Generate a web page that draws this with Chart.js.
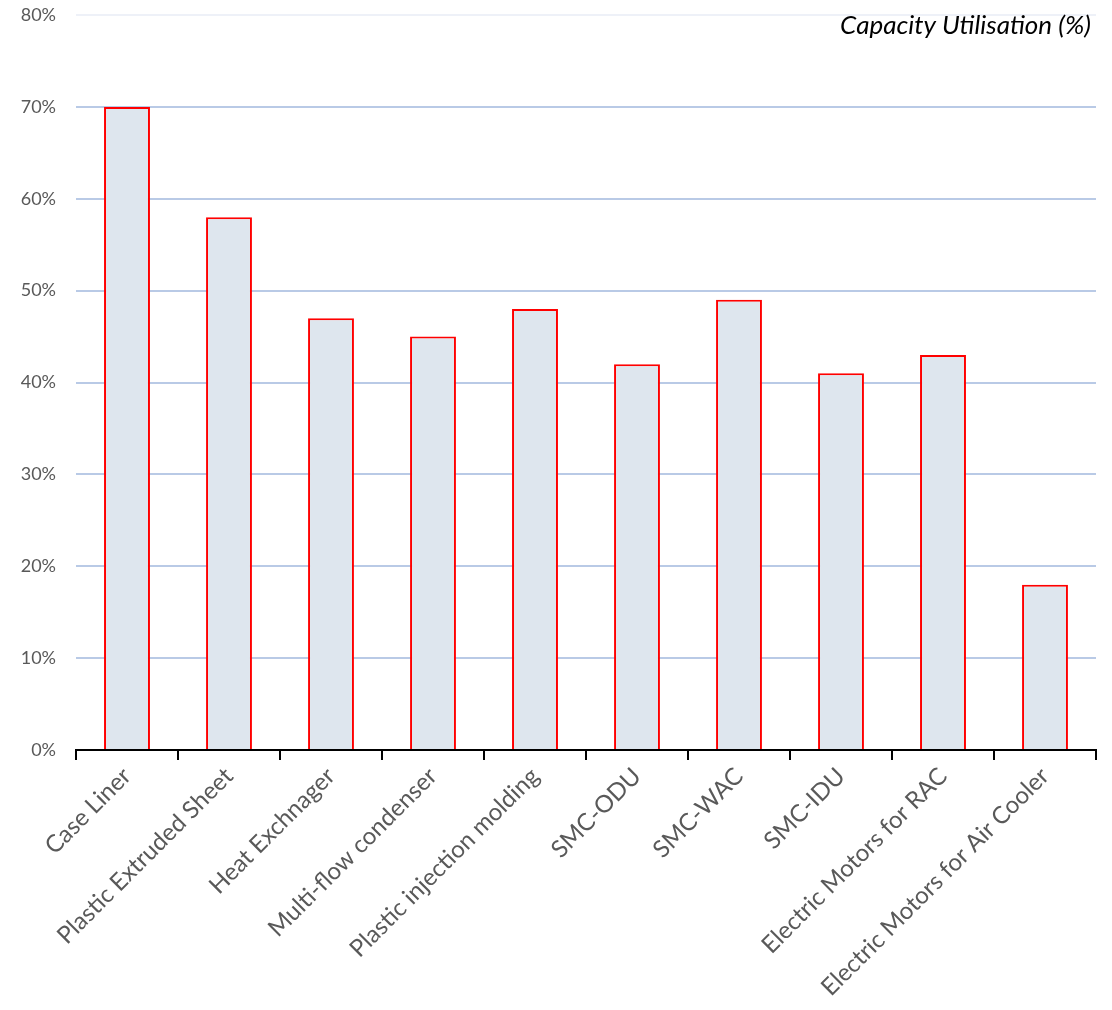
<!DOCTYPE html>
<html>
<head>
<meta charset="utf-8">
<script src="https://cdn.jsdelivr.net/npm/chart.js@4"></script>
<style>
    html, body { margin: 0; padding: 0; background: #fff; }
    #wrap { width: 1112px; height: 1010px; }
</style>
</head>
<body>
<div id="wrap"><canvas id="capChart" width="1112" height="1010"></canvas></div>
<script>
const categories = ["Case Liner", "Plastic Extruded Sheet", "Heat Exchnager", "Multi-flow condenser", "Plastic injection molding", "SMC-ODU", "SMC-WAC", "SMC-IDU", "Electric Motors for RAC", "Electric Motors for Air Cooler"]
const utilisation = [70, 58, 47, 45, 48, 42, 49, 41, 43, 18]
const yTicks = [0, 10, 20, 30, 40, 50, 60, 70, 80]
const chartTitle = "Capacity Utilisation (%)"

const titlePlugin = {
    id: "cornerTitle",
    afterDraw: (chart) => {
        const ctx = chart.ctx
        ctx.save()
        ctx.font = "italic 26px Lato"
        ctx.fillStyle = "#000"
        ctx.textAlign = "right"
        ctx.textBaseline = "middle"
        ctx.fillText(chartTitle, chart.chartArea.right - 5, 26)
        ctx.restore()
    }
}

const config = {
    type: "bar",
    data: {
        labels: categories,
        datasets: [{
            label: chartTitle,
            data: utilisation,
            backgroundColor: "#DEE6EE",
            borderColor: "#FF0000",
            borderWidth: 2,
            borderSkipped: "bottom",
            barPercentage: 0.45,
            categoryPercentage: 1
        }]
    },
    options: {
        responsive: false,
        animation: false,
        layout: { padding: { top: 15, right: 16, left: 0, bottom: 0 } },
        plugins: {
            legend: { display: false },
            tooltip: { enabled: false }
        },
        scales: {
            x: {
                offset: true,
                grid: {
                    offset: true,
                    drawOnChartArea: false,
                    drawTicks: true,
                    tickLength: 10,
                    color: "#000",
                    lineWidth: 2
                },
                border: { display: true, color: "#000", width: 2 },
                ticks: {
                    color: "#595959",
                    font: { family: "Lato", size: 24 },
                    maxRotation: 45,
                    minRotation: 45,
                    autoSkip: false,
                    padding: 2
                },
                afterFit: (scale) => { scale.height = 260 }
            },
            y: {
                min: 0,
                max: 80,
                afterBuildTicks: (scale) => { scale.ticks = yTicks.map(v => ({ value: v })) },
                grid: {
                    drawTicks: false,
                    color: (ctx) => ctx.tick && ctx.tick.value === 80 ? "#EEF1F8" : "#B9CAE6",
                    lineWidth: 2
                },
                border: { display: false },
                ticks: {
                    color: "#595959",
                    font: { family: "Lato", size: 18 },
                    padding: 20,
                    callback: (value) => value + "%"
                },
                afterFit: (scale) => {
                    scale.width = 76
                    scale.paddingTop = 0
                    scale.paddingBottom = 0
                }
            }
        }
    },
    plugins: [titlePlugin]
}

new Chart(document.getElementById("capChart").getContext("2d"), config)
</script>
</body>
</html>
